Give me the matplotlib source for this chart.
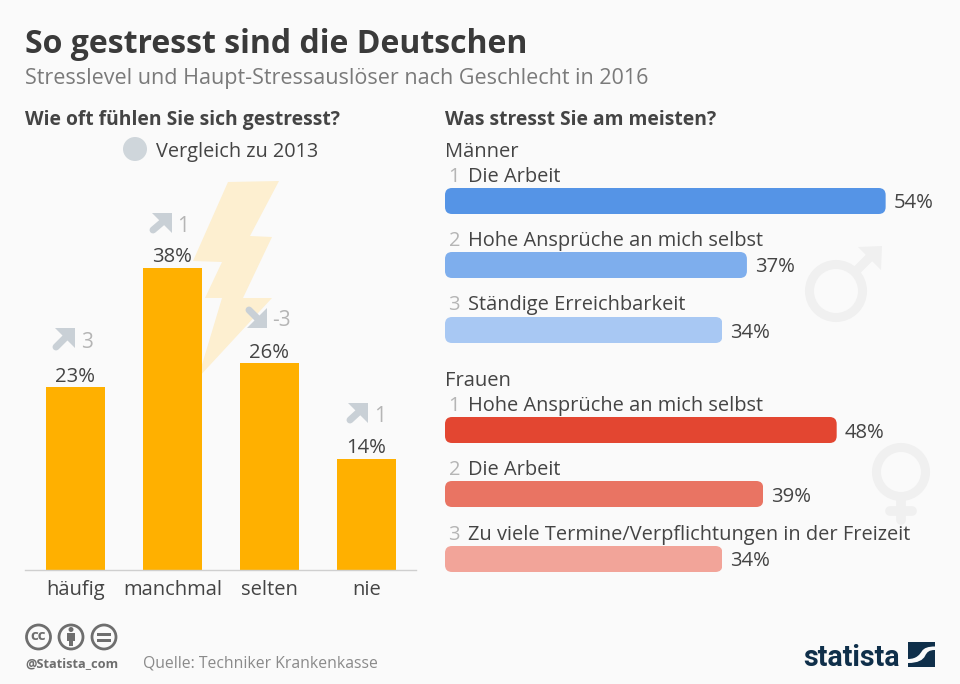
import matplotlib
matplotlib.use('Agg')
import matplotlib.pyplot as plt
from matplotlib.patches import Circle, Polygon, Rectangle, FancyBboxPatch, PathPatch
from matplotlib.path import Path

plt.rcParams['font.family'] = ['Open Sans', 'DejaVu Sans']

# left chart
freq_labels = ['häufig', 'manchmal', 'selten', 'nie']
freq_values = [23, 38, 26, 14]
freq_change = [3, 1, -3, 1]

# right chart
men_labels = ['Die Arbeit', 'Hohe Ansprüche an mich selbst', 'Ständige Erreichbarkeit']
men_values = [54, 37, 34]
women_labels = ['Hohe Ansprüche an mich selbst', 'Die Arbeit', 'Zu viele Termine/Verpflichtungen in der Freizeit']
women_values = [48, 39, 34]

BG = '#fafafa'
TXT = '#444444'
GREY = '#c9d0d6'
NUM = '#b5b5b5'
SYM = '#f0f0f0'
NAVY = '#0f2f4a'

W, H = 960, 684
fig = plt.figure(figsize=(W / 100, H / 100), dpi=100, facecolor=BG)

# overlay in pixel coordinates for all the decoration
bg = fig.add_axes([0, 0, 1, 1], zorder=0)
bg.set_xlim(0, W)
bg.set_ylim(H, 0)
bg.axis('off')


def box(left, top, right, bottom):
    return [left / W, 1 - bottom / H, (right - left) / W, (bottom - top) / H]


# titles
bg.text(25, 53, 'So gestresst sind die Deutschen', fontsize=23, fontweight='bold', color='#3a3a3a')
bg.text(25, 84, 'Stresslevel und Haupt-Stressauslöser nach Geschlecht in 2016', fontsize=15.45, color='#7a7a7a')
bg.text(25, 125, 'Wie oft fühlen Sie sich gestresst?', fontsize=13.85, fontweight='bold', color=TXT)
bg.text(445, 125, 'Was stresst Sie am meisten?', fontsize=13.85, fontweight='bold', color=TXT)

# legend
bg.add_patch(Circle((135, 149), 12, color='#cfd6db', lw=0))
bg.text(156, 157, 'Vergleich zu 2013', fontsize=14.3, color=TXT)

# lightning
bolt = [(228, 182), (279, 181), (250, 236), (272, 237), (243, 298), (272, 298),
        (198, 378), (222, 298), (205, 298), (222, 262), (193, 261)]
bg.add_patch(Polygon(bolt, closed=True, color='#fdefd0', lw=0, zorder=1))


def corner_arrow(x0, y0, x1, y1):
    # shaft and triangular head, tip at (x1, y1)
    sx = 1 if x1 > x0 else -1
    sy = 1 if y1 > y0 else -1
    bg.plot([x0 + sx * 3, x1 - sx * 6], [y0 + sy * 3, y1 - sy * 6], color=GREY, lw=5,
            solid_capstyle='round', zorder=3)
    bg.add_patch(Polygon([(x1, y1), (x1 - sx * 20, y1), (x1, y1 - sy * 20)], closed=True,
                         color=GREY, lw=0, zorder=3))


arrows = [(53, 350, 75, 328), (150, 233, 172, 213), (246, 307, 267, 328), (347, 423, 368, 403)]
num_x = [87, 183, 281, 380]
num_y = [340, 224, 318, 414]
for a, nx, ny, c in zip(arrows, num_x, num_y, freq_change):
    corner_arrow(*a)
    bg.text(nx, ny + 8, str(c), fontsize=15, color=NUM, ha='center', zorder=3)

# male symbol
bg.add_patch(Circle((836, 291), 26.5, fill=False, ec=SYM, lw=6.5))
bg.plot([855, 874], [272, 253], color=SYM, lw=6.5, solid_capstyle='butt')
bg.add_patch(Polygon([(882, 246), (858, 247), (881, 270)], closed=True, color=SYM, lw=0))

# female symbol
bg.add_patch(Circle((901, 472), 24.5, fill=False, ec=SYM, lw=6.5))
bg.plot([901, 901], [497, 520], color=SYM, lw=7, solid_capstyle='round')
bg.plot([890, 912], [511, 511], color=SYM, lw=7, solid_capstyle='round')

# left bars
ax = fig.add_axes(box(25, 170, 416, 570), zorder=1)
ax.patch.set_alpha(0)
ax.set_xlim(-0.52, 3.51)
ax.set_ylim(0, 400 / 7.95)
pos = range(len(freq_values))
ax.bar(pos, freq_values, width=0.6, color='#ffb000', lw=0)
for p, v in zip(pos, freq_values):
    ax.annotate('%d%%' % v, (p, v), xytext=(0, 4), textcoords='offset points', ha='center',
                va='baseline', fontsize=14.6, color=TXT)
ax.set_xticks(list(pos))
ax.set_xticklabels(freq_labels, fontsize=14.5, color=TXT)
ax.tick_params(axis='x', length=0, pad=7.5)
ax.set_yticks([])
for s in ['top', 'left', 'right']:
    ax.spines[s].set_visible(False)
ax.spines['bottom'].set_color('#cfcfcf')
ax.spines['bottom'].set_linewidth(1)

# right bars, x in percent, y in pixels
PX = 8.16
rx = fig.add_axes(box(445, 0, 950, H), zorder=1)
rx.patch.set_alpha(0)
rx.set_xlim(0, 505 / PX)
rx.set_ylim(H, 0)
rx.axis('off')


def bar_group(labels, values, colors, tops, baselines, head, head_y):
    rx.text(0, head_y, head, fontsize=14.5, color=TXT, ha='left')
    for i, (lab, v) in enumerate(zip(labels, values)):
        bars = rx.barh(tops[i] + 13, v, height=26, color=colors[i], lw=0)
        clip = FancyBboxPatch((0, tops[i]), v, 26, boxstyle='round,pad=0,rounding_size=%f' % (7 / PX),
                              mutation_aspect=PX, transform=rx.transData)
        bars[0].set_clip_path(clip)
        rx.text(v + 8 / PX, tops[i] + 20.5, '%d%%' % v, fontsize=14.6, color=TXT)
        rx.text(3.5 / PX, baselines[i], str(i + 1), fontsize=14.5, color=NUM)
        rx.text(23 / PX, baselines[i], lab, fontsize=14.4, color=TXT)


bar_group(men_labels, men_values, ['#5594e6', '#7eaeed', '#a8c8f3'],
          [188, 252, 317], [182, 246, 310], 'Männer', 157)
bar_group(women_labels, women_values, ['#e34631', '#e97463', '#f2a499'],
          [417, 481, 546], [411, 475, 540], 'Frauen', 386)

# cc icons
ic = '#6e6e6e'
for cx in [38.5, 71, 104]:
    bg.add_patch(Circle((cx, 637), 12, fill=False, ec=ic, lw=2))
bg.text(38.5, 636.5, 'cc', fontsize=11, fontweight='bold', color=ic, ha='center', va='center')
bg.add_patch(Circle((71, 629.5), 2.5, color=ic, lw=0))
bg.add_patch(Rectangle((67, 633), 8, 8, color=ic, lw=0))
bg.add_patch(Rectangle((69, 640), 4, 6, color=ic, lw=0))
bg.add_patch(Rectangle((97, 632.5), 14, 3, color=ic, lw=0))
bg.add_patch(Rectangle((97, 638.5), 14, 3, color=ic, lw=0))

bg.text(25, 667, '@Statista_com', fontsize=9.2, fontweight='bold', color='#6e6e6e')
bg.text(143, 667, 'Quelle: Techniker Krankenkasse', fontsize=11.35, color='#8a8a8a')

# statista logo
bg.text(803, 666, 'statista', fontsize=20.6, fontweight='bold', color=NAVY, family=['Liberation Sans Narrow', 'Roboto'])
bg.add_patch(Rectangle((908, 642), 27, 25, color=NAVY, lw=0))
swoosh = Path([(908, 659), (917, 659), (920, 654), (922, 651), (924, 648), (928, 646.5), (935, 646.5),
               (935, 650), (929, 650), (927, 652), (925, 656), (923, 660), (918, 663), (908, 663), (908, 659)],
              [Path.MOVETO, Path.CURVE4, Path.CURVE4, Path.CURVE4, Path.CURVE4, Path.CURVE4, Path.CURVE4,
               Path.LINETO, Path.CURVE4, Path.CURVE4, Path.CURVE4, Path.CURVE4, Path.CURVE4, Path.CURVE4, Path.CLOSEPOLY])
bg.add_patch(PathPatch(swoosh, fc=BG, lw=0))

fig.savefig('out.png', dpi=100, facecolor=BG)
